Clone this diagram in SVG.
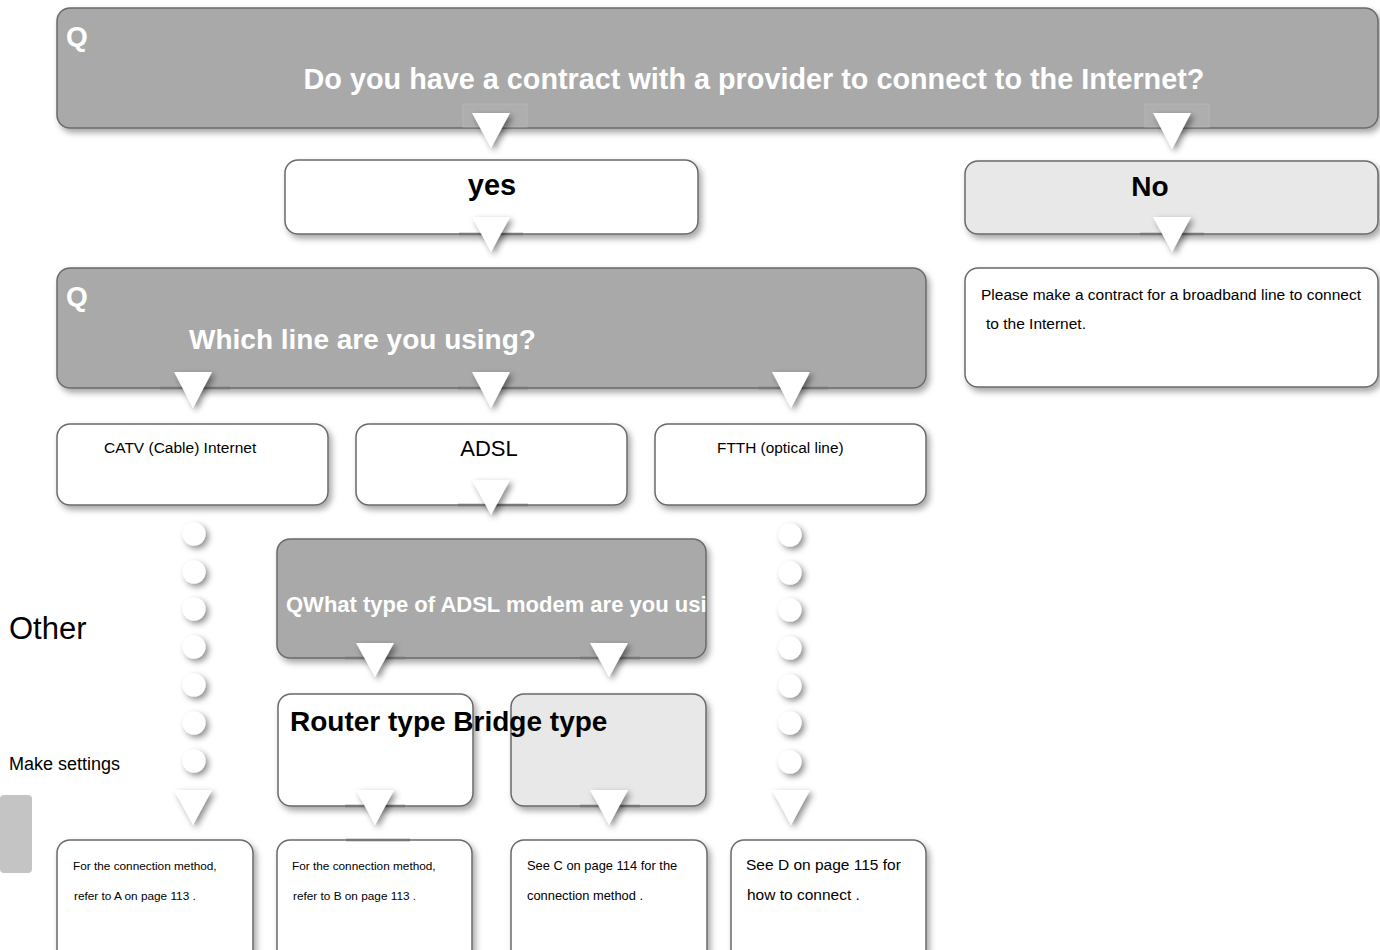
<svg xmlns="http://www.w3.org/2000/svg" width="1380" height="950" viewBox="0 0 1380 950">
<defs>
<filter id="sh" x="-10%" y="-10%" width="130%" height="140%"><feDropShadow dx="3" dy="4" stdDeviation="3" flood-color="#000" flood-opacity="0.35"/></filter>
<filter id="tsh" x="-40%" y="-40%" width="200%" height="200%"><feDropShadow dx="3" dy="3" stdDeviation="3" flood-color="#000" flood-opacity="0.45"/></filter>
<clipPath id="q3clip"><rect x="277" y="539" width="429" height="120"/></clipPath>
<style>
.q{fill:#a9a9a9;stroke:#6a6a6a;stroke-width:1.5}
.w{fill:#fff;stroke:#6a6a6a;stroke-width:1.5}
.l{fill:#e8e8e8;stroke:#6a6a6a;stroke-width:1.5}
.qt{font-family:"Liberation Sans",Arial,sans-serif;font-weight:bold;fill:#fff}
.bt{font-family:"Liberation Sans",Arial,sans-serif;font-weight:bold;fill:#000}
.t{font-family:"Liberation Sans",Arial,sans-serif;fill:#000}
.tri{fill:#fff;filter:url(#tsh)}
.dot{fill:#fff;filter:url(#tsh)}
.stem{stroke:#777;stroke-width:2.5}
.ghost{fill:#b2b2b2;stroke:#bdbdbd;stroke-width:1;opacity:0.6}
</style>
</defs>
<rect width="1380" height="950" fill="#fff"/>

<g id="q1">
<rect class="q" x="57" y="8" width="1321" height="120" rx="13" filter="url(#sh)"/>
<text class="qt" x="66" y="46" font-size="28">Q</text>
<text class="qt" x="754" y="89" font-size="28.8" text-anchor="middle">Do you have a contract with a provider to connect to the Internet?</text>
</g>
<g id="yes">
<rect class="w" x="285" y="160" width="413" height="74" rx="13" filter="url(#sh)"/>
<text class="bt" x="492" y="195" font-size="29" text-anchor="middle">yes</text>
</g>
<g id="no">
<rect class="l" x="965" y="161" width="413" height="73" rx="13" filter="url(#sh)"/>
<text class="bt" x="1150" y="196" font-size="28" text-anchor="middle">No</text>
</g>
<g id="please">
<rect class="w" x="965" y="268" width="413" height="119" rx="13" filter="url(#sh)"/>
<text class="t" x="981" y="300" font-size="15.5">Please make a contract for a broadband line to connect</text>
<text class="t" x="986" y="329" font-size="15.5">to the Internet.</text>
</g>
<g id="q2">
<rect class="q" x="57" y="268" width="869" height="120" rx="13" filter="url(#sh)"/>
<text class="qt" x="66" y="306" font-size="28">Q</text>
<text class="qt" x="189" y="349" font-size="28">Which line are you using?</text>
</g>
<g id="catv">
<rect class="w" x="57" y="424" width="271" height="81" rx="13" filter="url(#sh)"/>
<text class="t" x="104" y="453" font-size="15.5">CATV (Cable) Internet</text>
</g>
<g id="adsl">
<rect class="w" x="356" y="424" width="271" height="81" rx="13" filter="url(#sh)"/>
<text class="t" x="489" y="456" font-size="22" text-anchor="middle">ADSL</text>
</g>
<g id="ftth">
<rect class="w" x="655" y="424" width="271" height="81" rx="13" filter="url(#sh)"/>
<text class="t" x="717" y="453" font-size="15.4">FTTH (optical line)</text>
</g>
<g id="q3">
<rect class="q" x="277" y="539" width="429" height="119" rx="13" filter="url(#sh)"/>
<text class="qt" x="286" y="612" font-size="22" clip-path="url(#q3clip)">QWhat type of ADSL modem are you usin</text>
</g>
<g id="router">
<rect class="w" x="278" y="694" width="195" height="112" rx="13" filter="url(#sh)"/>
</g>
<g id="bridge">
<rect class="l" x="511" y="694" width="195" height="112" rx="13" filter="url(#sh)"/>
</g>
<text class="bt" x="290" y="731" font-size="28">Router type Bridge type</text>
<g id="resA">
<rect class="w" x="57" y="840" width="196" height="125" rx="13" filter="url(#sh)"/>
<text class="t" x="73" y="870" font-size="11.8">For the connection method,</text>
<text class="t" x="74" y="900" font-size="11.8">refer to A on page 113 .</text>
</g>
<g id="resB">
<rect class="w" x="277" y="840" width="195" height="125" rx="13" filter="url(#sh)"/>
<text class="t" x="292" y="870" font-size="11.8">For the connection method,</text>
<text class="t" x="293" y="900" font-size="11.8">refer to B on page 113 .</text>
</g>
<g id="resC">
<rect class="w" x="511" y="840" width="196" height="125" rx="13" filter="url(#sh)"/>
<text class="t" x="527" y="870" font-size="12.9">See C on page 114 for the</text>
<text class="t" x="527" y="900" font-size="12.9">connection method .</text>
</g>
<g id="resD">
<rect class="w" x="731" y="840" width="195" height="125" rx="13" filter="url(#sh)"/>
<text class="t" x="746" y="870" font-size="15.5">See D on page 115 for</text>
<text class="t" x="747" y="900" font-size="15.5">how to connect .</text>
</g>
<g id="other">
<text class="t" x="9" y="639" font-size="31">Other</text>
</g>
<g id="make">
<text class="t" x="9" y="770" font-size="18">Make settings</text>
</g>
<g id="tab">
<rect x="0" y="795" width="32" height="78" rx="4" fill="#c4c4c4"/>
</g>

<g id="connectors">
<rect class="ghost" x="463" y="104" width="64" height="23"/>
<rect class="ghost" x="1145" y="104" width="64" height="23"/>
<line class="stem" x1="459" y1="234" x2="523" y2="234"/>
<line class="stem" x1="1140" y1="234" x2="1204" y2="234"/>
<line class="stem" x1="160" y1="388" x2="230" y2="388"/>
<line class="stem" x1="458" y1="388" x2="528" y2="388"/>
<line class="stem" x1="758" y1="388" x2="828" y2="388"/>
<line class="stem" x1="458" y1="505" x2="528" y2="505"/>
<line class="stem" x1="345" y1="658" x2="405" y2="658"/>
<line class="stem" x1="580" y1="658" x2="640" y2="658"/>
<line class="stem" x1="345" y1="806" x2="405" y2="806"/>
<line class="stem" x1="580" y1="806" x2="640" y2="806"/>
<line class="stem" x1="346" y1="840" x2="410" y2="840"/>
<polygon class="tri" points="472,113 510,113 491,148"/>
<polygon class="tri" points="1153,113 1191,113 1172,149"/>
<polygon class="tri" points="472,217 510,217 491,252"/>
<polygon class="tri" points="1153,217 1191,217 1172,252"/>
<polygon class="tri" points="174,372 212,372 193,408"/>
<polygon class="tri" points="472,372 510,372 491,408"/>
<polygon class="tri" points="772,372 810,372 791,408"/>
<polygon class="tri" points="472,480 510,480 491,515"/>
<polygon class="tri" points="356,643 394,643 375,677"/>
<polygon class="tri" points="590,643 628,643 609,677"/>
<circle class="dot" cx="194" cy="534" r="11.5"/>
<circle class="dot" cx="194" cy="572" r="11.5"/>
<circle class="dot" cx="194" cy="609" r="11.5"/>
<circle class="dot" cx="194" cy="647" r="11.5"/>
<circle class="dot" cx="194" cy="685" r="11.5"/>
<circle class="dot" cx="194" cy="723" r="11.5"/>
<circle class="dot" cx="194" cy="761" r="11.5"/>
<circle class="dot" cx="790" cy="535" r="11.5"/>
<circle class="dot" cx="790" cy="573" r="11.5"/>
<circle class="dot" cx="790" cy="610" r="11.5"/>
<circle class="dot" cx="790" cy="648" r="11.5"/>
<circle class="dot" cx="790" cy="686" r="11.5"/>
<circle class="dot" cx="790" cy="723" r="11.5"/>
<circle class="dot" cx="790" cy="762" r="11.5"/>
<polygon class="tri" points="174,790 212,790 193,825"/>
<polygon class="tri" points="356,790 394,790 375,825"/>
<polygon class="tri" points="590,790 628,790 609,825"/>
<polygon class="tri" points="772,790 810,790 791,825"/>
</g>
</svg>
